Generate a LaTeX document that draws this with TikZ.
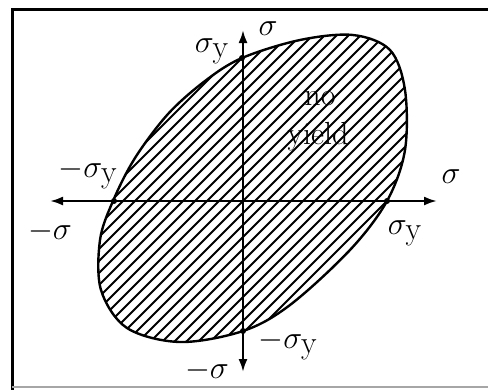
\RequirePackage{fix-cm}
\documentclass[tikz,border=0pt]{standalone}
\usetikzlibrary{arrows.meta}
\begin{document}
\begin{tikzpicture}[x=1pt,y=-1pt,
  lbl/.style={inner sep=0pt,font=\fontsize{32}{36}\selectfont},
  axis/.style={line width=2.2pt,{Latex[length=13pt,width=9pt]}-{Latex[length=13pt,width=9pt]}},
  dot/.style={circle,fill=black,inner sep=0pt,minimum size=6pt}]
\useasboundingbox (0,0) rectangle (488,389);
% frame
\draw[line width=3pt] (12,395) -- (12,9) -- (495,9);
\draw[black!35,line width=1.5pt] (12,387) -- (495,387);
% hatching
\begin{scope}
\clip plot[smooth cycle, tension=0.55] coordinates {(242,58) (300,40) (353,35) (390,50) (405,90) (405,150) (387,201) (350,250) (290,305) (243,331) (180,342) (127,328) (101,290) (100,240) (113,201) (135,158) (168,114) (205,81)};
\foreach \i in {-420,-408,...,500} \draw[line width=1.8pt] (\i,420) -- (\i+440,-20);
\end{scope}
\draw[line width=2.4pt] plot[smooth cycle, tension=0.55] coordinates {(242,58) (300,40) (353,35) (390,50) (405,90) (405,150) (387,201) (350,250) (290,305) (243,331) (180,342) (127,328) (101,290) (100,240) (113,201) (135,158) (168,114) (205,81)};
% axes
\coordinate (L) at (50,201);
\coordinate (R) at (437,201);
\coordinate (T) at (243,30);
\coordinate (B) at (243,372);
\draw[axis] (L) -- (R);
\draw[axis] (B) -- (T);
% yield points
\node[dot] (pl) at (114,201) {};
\node[dot] (pr) at (387,201) {};
\node[dot] (pt) at (242,58) {};
\node[dot] (pb) at (243,331) {};
% labels
\node[lbl] (sT) at (268,29) {$\sigma$};
\node[lbl] (syT) at (212,51) {$\sigma_{\textstyle\mathrm{y}}$};
\node[lbl] (no) at (320,99) {no};
\node[lbl] (yield) at (318,137) {yield};
\node[lbl] (syL) at (88,174) {$-\sigma_{\textstyle\mathrm{y}}$};
\node[lbl] (sR) at (451,177) {$\sigma$};
\node[lbl] (sL) at (50,231) {$-\sigma$};
\node[lbl] (syR) at (405,233) {$\sigma_{\textstyle\mathrm{y}}$};
\node[lbl] (syB) at (288,345) {$-\sigma_{\textstyle\mathrm{y}}$};
\node[lbl] (sB) at (207,370) {$-\sigma$};
\end{tikzpicture}
\end{document}
